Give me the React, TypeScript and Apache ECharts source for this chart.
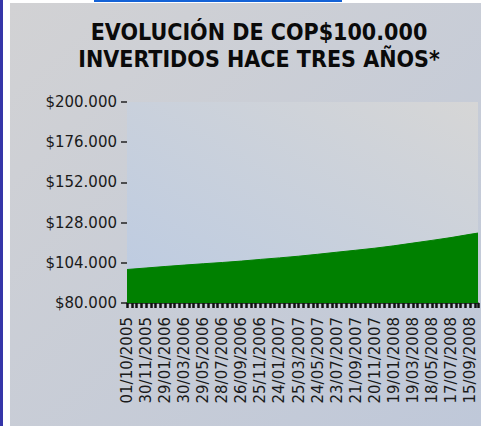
import React, { useEffect, useRef } from "react";
import * as echarts from "echarts";

const titleLines = ["EVOLUCIÓN DE COP$100.000", "INVERTIDOS HACE TRES AÑOS*"];

const dateLabels = [
  "01/10/2005", "30/11/2005", "29/01/2006", "30/03/2006", "29/05/2006",
  "28/07/2006", "26/09/2006", "25/11/2006", "24/01/2007", "25/03/2007",
  "24/05/2007", "23/07/2007", "21/09/2007", "20/11/2007", "19/01/2008",
  "19/03/2008", "18/05/2008", "17/07/2008", "15/09/2008",
];

// days elapsed since 01/10/2005
const days = [0, 60, 120, 180, 240, 300, 360, 420, 480, 540, 600, 660, 720, 780, 840, 900, 960, 1020, 1080, 1105];
const values = [
  100000, 100890, 101800, 102630, 103430, 104180, 105020, 106030, 106940, 107930,
  109080, 110310, 111500, 112720, 114150, 115770, 117380, 119060, 121000, 121750,
];

const yTicks = [80000, 104000, 128000, 152000, 176000, 200000];

const fmtMoney = (v: number) => {
  const s = String(Math.round(v));
  return "$" + s.replace(/\B(?=(\d{3})+(?!\d))/g, ".");
};

export default function App() {
  const ref = useRef<HTMLDivElement>(null);
  useEffect(() => {
    const chart = echarts.init(ref.current!, null, { renderer: "svg" });
    const gridLeft = 127, gridTop = 102, gridRight = 3, gridBottom = 123;
    chart.setOption({
      animation: false,
      graphic: [
        { type: "rect", z: -10, silent: true, shape: { x: 0, y: 0, width: 481, height: 426 }, style: { fill: "#ffffff" } },
        { type: "rect", z: -10, silent: true, shape: { x: 0, y: 0, width: 3, height: 426 }, style: { fill: "#3535a8" } },
        {
          type: "rect", z: -10, silent: true, shape: { x: 10, y: 3, width: 471, height: 423 },
          style: {
            fill: new echarts.graphic.LinearGradient(0, 0, 1, 1, [
              { offset: 0, color: "#d2d2d4" },
              { offset: 1, color: "#bfc8d9" },
            ]),
          },
        },
        { type: "rect", z: -10, silent: true, shape: { x: 94, y: 0, width: 248, height: 2 }, style: { fill: "#1462d6" } },
        {
          type: "rect", z: -9, silent: true,
          shape: { x: gridLeft, y: gridTop, width: 481 - gridLeft - gridRight, height: 426 - gridTop - gridBottom },
          style: {
            fill: new echarts.graphic.LinearGradient(0, 1, 1, 0, [
              { offset: 0, color: "#bccbe2" },
              { offset: 1, color: "#d6d6d6" },
            ]),
          },
        },
      ],
      title: {
        text: titleLines.join("\n"),
        left: 254,
        top: 13,
        textAlign: "center",
        textStyle: {
          fontFamily: "'DejaVu Sans Condensed', 'DejaVu Sans', sans-serif",
          fontWeight: "bold",
          fontSize: 23,
          lineHeight: 27,
          color: "#0a0a0a",
        },
      },
      grid: { left: gridLeft, right: gridRight, top: gridTop, bottom: gridBottom, containLabel: false },
      xAxis: {
        type: "value",
        min: 0,
        max: 1105,
        interval: 60,
        axisLine: { show: true, lineStyle: { color: "#111111", width: 1.5 } },
        axisTick: { show: true, length: 5, lineStyle: { color: "#111111", width: 2.5 } },
        minorTick: { show: true, splitNumber: 4, length: 5, lineStyle: { color: "#111111", width: 2.5 } },
        splitLine: { show: false },
        minorSplitLine: { show: false },
        axisLabel: {
          rotate: 90,
          margin: 14,
          showMaxLabel: false,
          fontFamily: "'DejaVu Sans', sans-serif",
          fontSize: 15,
          color: "#1a1a1a",
          formatter: (v: number) => {
            const i = Math.round(v / 60);
            return Math.abs(v - i * 60) < 1e-6 && i < dateLabels.length ? dateLabels[i] : "";
          },
        },
      },
      yAxis: {
        type: "value",
        min: 80000,
        max: 200000,
        axisLine: { show: false },
        splitLine: { show: false },
        axisTick: { show: true, length: 6, customValues: yTicks, lineStyle: { color: "#222222", width: 1.5 } },
        axisLabel: {
          customValues: yTicks,
          margin: 10,
          fontFamily: "'DejaVu Sans', sans-serif",
          fontSize: 15,
          color: "#1a1a1a",
          formatter: (v: number) => fmtMoney(v),
        },
      },
      series: [
        {
          type: "line",
          data: days.map((d, i) => [d, values[i]]),
          showSymbol: false,
          lineStyle: { color: "#008000", width: 1 },
          areaStyle: { color: "#008000", opacity: 1, origin: "start" },
          z: 2,
        },
      ],
    });
    return () => chart.dispose();
  }, []);
  return (
    <div
      ref={ref}
      style={{ position: "absolute", left: 0, top: 0, width: 481, height: 426 }}
    />
  );
}
